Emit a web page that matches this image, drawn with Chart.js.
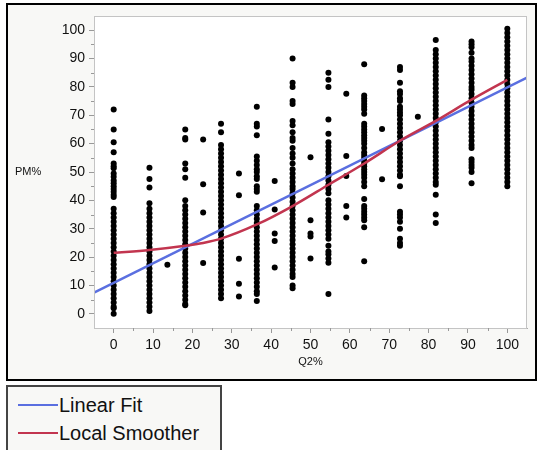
<!DOCTYPE html>
<html>
<head>
<meta charset="utf-8">
<script src="https://cdn.jsdelivr.net/npm/chart.js@4.4.1/dist/chart.umd.min.js"></script>
<style>
  body { margin: 0; width: 540px; height: 450px; overflow: hidden; background: #fff; font-family: "Liberation Sans", Arial, sans-serif; }
  #frame { position: absolute; left: 6px; top: 3px; width: 527px; height: 374px; border: 2px solid #000; background: #f8f8f6; }
  #plot { position: absolute; left: 0; top: 0; }
  #ylab { position: absolute; left: 15px; top: 165px; font-size: 11px; color: #111; }
  #legend { position: absolute; left: 6px; top: 385px; width: 212px; height: 70px; border: 2px solid #444; background: #f8f8f6; }
  .item { position: absolute; left: 10px; height: 24px; display: flex; align-items: center; font-size: 20px; color: #111; white-space: nowrap; }
  .swatch { width: 40px; height: 2px; margin-right: 1px; }
</style>
</head>
<body>
<div id="frame"></div>
<canvas id="plot" width="540" height="450"></canvas>
<div id="ylab">PM%</div>
<div id="legend">
  <div class="item" style="top:6px"><span class="swatch" style="background:#5a6fe0"></span>Linear Fit</div>
  <div class="item" style="top:34px"><span class="swatch" style="background:#c2354f"></span>Local Smoother</div>
</div>
<script>
// main columns of Q2% (x) and their PM% values (y)
const colX = [0, 9.09, 18.18, 27.27, 36.36, 45.45, 54.55, 63.64, 72.73, 81.82, 90.91, 100];
const y00 = [72, 65, 60.5, 57, 53, 52, 51.3, 49.5, 48.3, 47, 46, 45, 44, 43, 42, 41.2, 37, 35.5, 34, 32.5, 31, 29.5, 28, 26.5, 25, 23.5, 22, 20.5, 19, 17.5, 16, 14.5, 13, 11.5, 10, 8.5, 7, 5.5, 4, 2.5, 2, 0];
const y09 = [51.5, 47.5, 44.5, 39, 37, 35.5, 34, 32.5, 31, 29.5, 28, 26.5, 25, 23.5, 22, 20.5, 19, 17.5, 16, 14.5, 13, 11.5, 10, 8.5, 7, 5.5, 4, 2.5, 1];
const y18 = [65, 62, 61.5, 53, 51, 48, 40, 38, 36.5, 35, 33.5, 32, 30.5, 29, 27.5, 26, 24.5, 23, 21.5, 20, 18.5, 17, 15.5, 14, 12.5, 11, 9.5, 8, 6.5, 5, 3.5, 3];
const y27 = [67, 64, 59.5, 58, 56.5, 55, 53.5, 52, 50.5, 49, 47.5, 46, 44.5, 43, 41.5, 40, 38.5, 37, 35.5, 34, 32.5, 31, 29.5, 28, 26.5, 25, 23.5, 22, 20.5, 19, 17.5, 16, 14.5, 13, 11.5, 10, 8.5, 7, 5.5];
const y36 = [73, 67, 66, 63, 55.5, 54, 52.5, 51, 50, 48.5, 47.5, 45, 44, 43, 38, 36.5, 35, 33.5, 32, 30.5, 29, 27.5, 26, 24.5, 23, 21.5, 20, 18.5, 17, 15.5, 14, 12.5, 11, 9.5, 8, 7, 4.5];
const y45 = [90, 81.5, 80, 75, 74, 68, 66.5, 64, 62, 61, 58.5, 56.5, 55, 53, 51, 49.5, 48, 46.5, 45, 44, 42.5, 41, 39.5, 38, 36.5, 35, 33.5, 32, 30.5, 29, 27.5, 26, 24.5, 23, 21.5, 20, 18.5, 17, 15.5, 14, 13, 10, 9];
const y54 = [85, 82.5, 80, 68.5, 63.5, 60.5, 59, 57.5, 56, 54.5, 53, 51.5, 50, 48.5, 47, 45.5, 44, 42.5, 40, 38.5, 37, 35.5, 34, 32.5, 31, 29.5, 28, 26.5, 24, 22, 21, 19.5, 18, 7];
const y63 = [88, 77, 76, 75, 74, 73, 72, 70.5, 67, 66, 65, 64, 63, 62, 61, 60, 58.5, 57, 56, 55, 54, 53, 52, 51, 50, 49, 48, 46.5, 45, 40.5, 38, 37, 36, 35, 34, 33, 30.5, 18.5];
const y72 = [87, 86, 81.5, 78.5, 77.5, 76, 75, 73, 72, 71, 70, 68.5, 67, 65.5, 64, 62.5, 61, 59.5, 58, 56.5, 55, 53.5, 52, 50.5, 49, 48.5, 45, 36, 35, 34, 32.5, 30, 26.5, 25, 24];
const y81 = [96.5, 93, 91.5, 90, 88.5, 87, 85.5, 84, 82.5, 81, 79.5, 78, 76.5, 75, 73.5, 72, 70.5, 69, 67.5, 66, 64.5, 63, 61.5, 60, 58.5, 57, 55.5, 54, 52.5, 51, 49.5, 48, 46.5, 45.5, 42, 35, 32];
const y90 = [96, 95, 94, 92, 90, 89, 87.5, 86, 84.5, 83, 81.5, 80, 79, 77.5, 76, 74.5, 73, 71.5, 70, 68.5, 67, 65.5, 64, 62.5, 61, 59.5, 58.5, 54.5, 53.5, 52.5, 51.5, 50, 46];
const y100 = [100.5, 99, 97.5, 96, 94.5, 93, 91.5, 90, 88.5, 87, 85.5, 84, 82.5, 81, 79.5, 78, 76.5, 75, 73.5, 72, 70.5, 69, 67.5, 66, 64.5, 63, 61.5, 60, 58.5, 57, 55.5, 54, 52.5, 51, 49.5, 48, 46.5, 45];
const colY = [y00, y09, y18, y27, y36, y45, y54, y63, y72, y81, y90, y100];

// sparse in-between columns
const midX = [13.64, 22.73, 31.82, 40.91, 50, 59.09, 68.18, 77.27];
const midY = [[17.3], [61.5, 45.7, 35.7, 17.9], [49.5, 41.8, 19.4, 10.6, 6.1], [46.8, 36.8, 28.3, 25.7, 16.3],
              [55.2, 33, 28.3, 27.3, 19.5], [77.6, 55.6, 48.6, 38, 34], [65.2, 47.4], [69.5]];

// fitted lines
const fitX = [-5, 105];
const fitY = [7.5, 83.3];
const smoothX = [0, 9.09, 18.18, 22.73, 27.27, 36.36, 45.45, 54.55, 63.64, 72.73, 81.82, 90.91, 100];
const smoothY = [21.5, 22.5, 24, 25, 26.5, 31.5, 38, 45.5, 53, 61, 68, 75.5, 82.5];

const majorTicks = [0, 10, 20, 30, 40, 50, 60, 70, 80, 90, 100];
const minorTicks = [5, 15, 25, 35, 45, 55, 65, 75, 85, 95];

const pts = [];
colX.forEach((x, i) => colY[i].forEach(y => pts.push({ x: x, y: y })));
midX.forEach((x, i) => midY[i].forEach(y => pts.push({ x: x, y: y })));

const fam = '"Liberation Sans", Arial, sans-serif';

const plotBg = {
    id: 'plotBg',
    beforeDraw(chart) {
        const { ctx, chartArea: a } = chart;
        ctx.save();
        ctx.fillStyle = '#fff';
        ctx.fillRect(a.left, a.top, a.right - a.left, a.bottom - a.top);
        ctx.restore();
    },
    afterDraw(chart) {
        const { ctx, chartArea: a, scales } = chart;
        ctx.save();
        ctx.strokeStyle = '#c4c4c4';
        ctx.lineWidth = 1;
        ctx.strokeRect(a.left + 0.5, a.top + 0.5, a.right - a.left - 1, a.bottom - a.top);
        // minor ticks
        ctx.strokeStyle = '#999';
        ctx.beginPath();
        minorTicks.forEach(v => {
            const px = Math.round(scales.x.getPixelForValue(v)) + 0.5;
            ctx.moveTo(px, a.bottom);
            ctx.lineTo(px, a.bottom + 3);
            const py = Math.round(scales.y.getPixelForValue(v)) + 0.5;
            ctx.moveTo(a.left, py);
            ctx.lineTo(a.left - 3, py);
        });
        ctx.stroke();
        ctx.restore();
    }
};

const axisCommon = {
    type: 'linear',
    min: -5,
    max: 105,
    grid: { drawOnChartArea: false, drawTicks: true, tickLength: 5, tickColor: '#999' },
    border: { display: true, color: '#aaa' },
};

new Chart(document.getElementById('plot'), {
    type: 'scatter',
    data: {
        datasets: [
            {
                type: 'line',
                label: 'Local Smoother',
                data: smoothX.map((x, i) => ({ x: x, y: smoothY[i] })),
                borderColor: '#c2354f',
                borderWidth: 2.5,
                pointRadius: 0,
                fill: false,
                cubicInterpolationMode: 'monotone'
            },
            {
                type: 'line',
                label: 'Linear Fit',
                data: fitX.map((x, i) => ({ x: x, y: fitY[i] })),
                borderColor: '#5a6fe0',
                borderWidth: 2.5,
                pointRadius: 0,
                fill: false
            },
            {
                label: 'PM%',
                data: pts,
                backgroundColor: '#000',
                borderWidth: 0,
                pointRadius: 3
            }
        ]
    },
    options: {
        responsive: false,
        animation: false,
        layout: { padding: { top: 16, right: 13, bottom: 78, left: 0 } },
        plugins: { legend: { display: false }, tooltip: { enabled: false } },
        scales: {
            x: {
                ...axisCommon,
                afterBuildTicks: s => { s.ticks = majorTicks.map(v => ({ value: v })); },
                afterFit: s => { s.height = 44; },
                ticks: { padding: 4, color: '#111', font: { size: 14, family: fam }, maxRotation: 0, autoSkip: false },
                title: { display: true, text: 'Q2%', color: '#111', font: { size: 11, family: fam }, padding: { top: 0, bottom: 3 } }
            },
            y: {
                ...axisCommon,
                afterBuildTicks: s => { s.ticks = majorTicks.map(v => ({ value: v })); },
                afterFit: s => { s.width = 94; },
                ticks: { padding: 4, color: '#111', font: { size: 14, family: fam }, autoSkip: false }
            }
        }
    },
    plugins: [plotBg]
});
</script>
</body>
</html>
